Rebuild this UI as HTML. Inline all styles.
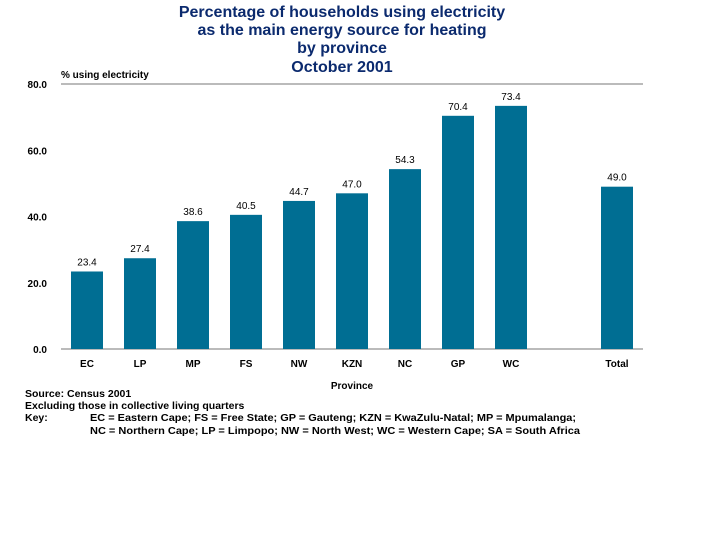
<!DOCTYPE html>
<html><head><meta charset="utf-8"><style>
body{margin:0;background:#fff;font-family:"Liberation Sans",Arial,sans-serif}
svg text{font-family:"Liberation Sans",Arial,sans-serif}
</style></head><body>
<svg width="720" height="540">
<g font-weight="bold" font-size="16" fill="#0b2a6e" text-anchor="middle">
<text x="342" y="17">Percentage of households using electricity</text>
<text x="342" y="35">as the main energy source for heating</text>
<text x="342" y="53">by province</text>
<text x="342" y="72">October 2001</text>
</g>
<text x="61" y="78" font-size="10" font-weight="bold">% using electricity</text>
<g id="axes"></g>
<g id="bars"></g>
<text x="352" y="389" font-size="10" font-weight="bold" text-anchor="middle">Province</text>
<g font-size="10.5" font-weight="bold">
<text x="25" y="397">Source: Census 2001</text>
<text x="25" y="409">Excluding those in collective living quarters</text>
<text x="25" y="421">Key:</text>
<text x="90" y="421" textLength="486" lengthAdjust="spacingAndGlyphs">EC = Eastern Cape; FS = Free State; GP = Gauteng; KZN = KwaZulu-Natal; MP = Mpumalanga;</text>
<text x="90" y="434" textLength="490" lengthAdjust="spacingAndGlyphs">NC = Northern Cape; LP = Limpopo; NW = North West; WC = Western Cape;  SA = South Africa</text>
</g>
</svg>
<script>
const categories=["EC","LP","MP","FS","NW","KZN","NC","GP","WC","Total"];
const values=[23.4,27.4,38.6,40.5,44.7,47.0,54.3,70.4,73.4,49.0];
const ticks=[0,20,40,60,80];
const slots=[0,1,2,3,4,5,6,7,8,10];
const NS="http://www.w3.org/2000/svg";
const y=v=>349-v*(265/80);
const xs=i=>71+slots[i]*53;
function mk(t,a,p){const e=document.createElementNS(NS,t);for(const k in a)e.setAttribute(k,a[k]);p.appendChild(e);return e;}
const ax=document.getElementById('axes'),bg=document.getElementById('bars');
ticks.forEach(t=>{
 const tl=mk('text',{x:47,y:y(t)+4,'font-size':10,'font-weight':'bold','text-anchor':'end'},ax);
 tl.textContent=t.toFixed(1);
 
 
});
[80,0].forEach(t=>{
 const l=mk('line',{x1:61,x2:643,y1:y(t),y2:y(t),stroke:'#777','stroke-width':1},ax);
 
 
});
categories.forEach((c,i)=>{
 const x=xs(i),v=values[i];
 const r=mk('rect',{x:x,y:y(v),width:32,height:349-y(v),fill:'#006e93'},bg);
 
 
 const vl=mk('text',{x:x+16,y:y(v)-6,'font-size':10,'text-anchor':'middle'},bg);
 vl.textContent=v.toFixed(1);
 
 
 const cl=mk('text',{x:x+16,y:367,'font-size':10,'font-weight':'bold','text-anchor':'middle'},bg);
 cl.textContent=c;
 
 
});
</script>
</body></html>
